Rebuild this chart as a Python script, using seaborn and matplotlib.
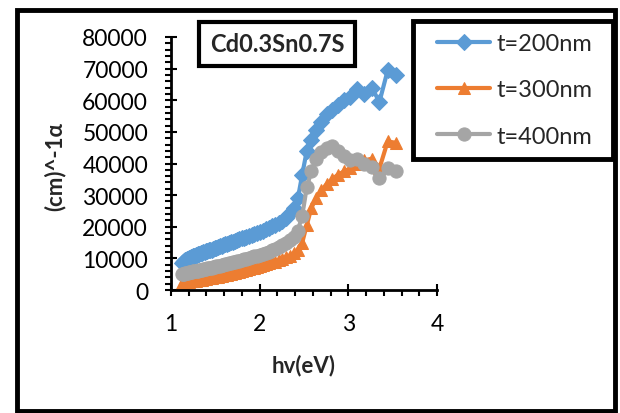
import pandas as pd
import matplotlib
matplotlib.use("Agg")
import matplotlib.pyplot as plt
import seaborn as sns
from matplotlib.patches import Rectangle
from matplotlib.ticker import MultipleLocator

# --- DATA ---
HV = [1.127, 1.138, 1.148, 1.159, 1.170, 1.181, 1.192, 1.204, 1.216, 1.228,
      1.240, 1.253, 1.265, 1.278, 1.292, 1.305, 1.319, 1.333, 1.348, 1.363,
      1.378, 1.393, 1.409, 1.425, 1.442, 1.459, 1.476, 1.494, 1.512, 1.531,
      1.550, 1.570, 1.590, 1.610, 1.632, 1.653, 1.676, 1.699, 1.722, 1.746,
      1.771, 1.797, 1.824, 1.851, 1.879, 1.908, 1.938, 1.968, 2.000, 2.033,
      2.067, 2.102, 2.138, 2.175, 2.214, 2.255, 2.296, 2.340, 2.385, 2.431,
      2.480, 2.531, 2.583, 2.638, 2.696, 2.756, 2.818, 2.884, 2.952, 3.024,
      3.100, 3.179, 3.263, 3.351, 3.444, 3.543]

ALPHA_200 = [8500, 8900, 9200, 9400, 9600, 9800, 9950, 10100, 10250, 10400,
             10550, 10700, 10850, 11000, 11150, 11300, 11450, 11600, 11750, 11900,
             12050, 12200, 12350, 12500, 12650, 12800, 13000, 13200, 13400, 13600,
             13800, 14000, 14200, 14400, 14600, 14800, 15050, 15300, 15550, 15800,
             16050, 16300, 16600, 16900, 17200, 17500, 17800, 18100, 18450, 18800,
             19200, 19600, 20100, 20600, 21200, 21900, 22800, 24200, 26000, 29000,
             36500, 44000, 47500, 50500, 53000, 55500, 57000, 58500, 60000, 61000,
             63500, 62000, 64000, 59500, 69500, 68000]

ALPHA_300 = [2300, 2350, 2400, 2450, 2500, 2550, 2600, 2650, 2700, 2750,
             2800, 2850, 2900, 2950, 3050, 3100, 3150, 3250, 3300, 3400,
             3450, 3550, 3650, 3700, 3800, 3900, 4000, 4100, 4150, 4250,
             4350, 4500, 4600, 4700, 4850, 5000, 5150, 5300, 5450, 5650,
             5800, 6000, 6200, 6400, 6600, 6850, 7050, 7300, 7550, 7800,
             8100, 8400, 8700, 9000, 9400, 9800, 10300, 10900, 11600, 12800,
             15000, 20500, 26000, 29000, 31500, 33500, 35000, 36500, 37500, 38500,
             40000, 41000, 41500, 38500, 47000, 46500]

ALPHA_400 = [5000, 5100, 5150, 5250, 5300, 5400, 5450, 5550, 5600, 5700,
             5750, 5850, 5900, 6000, 6100, 6150, 6250, 6350, 6400, 6500,
             6600, 6700, 6800, 6900, 7000, 7100, 7200, 7350, 7450, 7550,
             7700, 7800, 7950, 8100, 8250, 8400, 8550, 8700, 8900, 9050,
             9250, 9450, 9650, 9850, 10100, 10350, 10600, 10850, 11150, 11450,
             11800, 12150, 12550, 13000, 13500, 14100, 14800, 15700, 16800, 18800,
             23500, 32500, 37500, 41500, 43500, 45000, 45500, 44000, 42500, 41000,
             41500, 40000, 39000, 35500, 38500, 37500]

SERIES = ["t=200nm", "t=300nm", "t=400nm"]
COLORS = ["#5B9BD5", "#ED7D31", "#A5A5A5"]
MARKERS = ["D", "^", "o"]

df = pd.DataFrame({
    "hv": HV * 3,
    "alpha": ALPHA_200 + ALPHA_300 + ALPHA_400,
    "series": [SERIES[0]] * len(HV) + [SERIES[1]] * len(HV) + [SERIES[2]] * len(HV),
})

sns.set_style("white")
plt.rcParams["font.family"] = ["Lato", "DejaVu Sans"]

W, H = 620, 414
fig = plt.figure(figsize=(W / 100, H / 100), dpi=100)
ax = fig.add_axes([171 / W, 1 - 291 / H, (437 - 171) / W, (291 - 38) / H])

msizes = {"t=200nm": 8, "t=300nm": 9, "t=400nm": 9.5}
for name, col, mk in zip(SERIES, COLORS, MARKERS):
    sns.lineplot(data=df[df["series"] == name], x="hv", y="alpha", ax=ax,
                 color=col, marker=mk, markersize=msizes[name],
                 markeredgecolor=col, linewidth=3, sort=False, label=name)

ax.set_xlim(1, 4)
ax.set_ylim(0, 80000)
ax.xaxis.set_major_locator(MultipleLocator(1))
ax.xaxis.set_minor_locator(MultipleLocator(0.2))
ax.yaxis.set_major_locator(MultipleLocator(10000))
ax.yaxis.set_minor_locator(MultipleLocator(2000))
for s in ["top", "right"]:
    ax.spines[s].set_visible(False)
for s in ["left", "bottom"]:
    ax.spines[s].set_color("black")
    ax.spines[s].set_linewidth(2)
ax.tick_params(which="major", direction="inout", length=9, width=1.5,
               labelsize=16.5, colors="black", pad=12)
ax.tick_params(which="minor", direction="out", length=4, width=1.5, colors="black")
ax.tick_params(axis="x", which="both", bottom=True)
ax.tick_params(axis="y", which="both", left=True)
ax.set_xlabel("")
ax.set_ylabel("")

fig.text(55 / W, 1 - 167 / H, "(cm)^-1α", rotation=90, ha="center", va="center",
         fontsize=16, fontweight="bold")
fig.text(304 / W, 1 - 366 / H, "hv(eV)", ha="center", va="center",
         fontsize=16, fontweight="bold")
fig.text(277 / W, 1 - 45 / H, "Cd0.3Sn0.7S", ha="center", va="center",
         fontsize=17, fontweight="bold",
         bbox=dict(boxstyle="square,pad=0.45", fc="white", ec="black", lw=3))

# legend box drawn separately so its size matches the reference
handles, labels = ax.get_legend_handles_labels()
ax.get_legend().remove()
fig.patches.append(Rectangle((413 / W, 1 - 160 / H), 200 / W, 138 / H,
                             transform=fig.transFigure, fc="white",
                             ec="black", lw=3.5, zorder=4))
leg = fig.legend(handles, labels, loc="upper left",
                 bbox_to_anchor=(437 / W, 1 - 34 / H),
                 bbox_transform=fig.transFigure, fontsize=17, frameon=False,
                 handlelength=2.25, borderpad=0, labelspacing=1.07,
                 handletextpad=0.25, borderaxespad=0)
leg.set_zorder(6)

# outer chart frame
fig.patches.append(Rectangle((17 / W, 2.5 / H), (615 - 17) / W, 401 / H,
                             transform=fig.transFigure, fill=False,
                             ec="black", lw=3.5, zorder=7))

fig.savefig("out.png", dpi=100)
